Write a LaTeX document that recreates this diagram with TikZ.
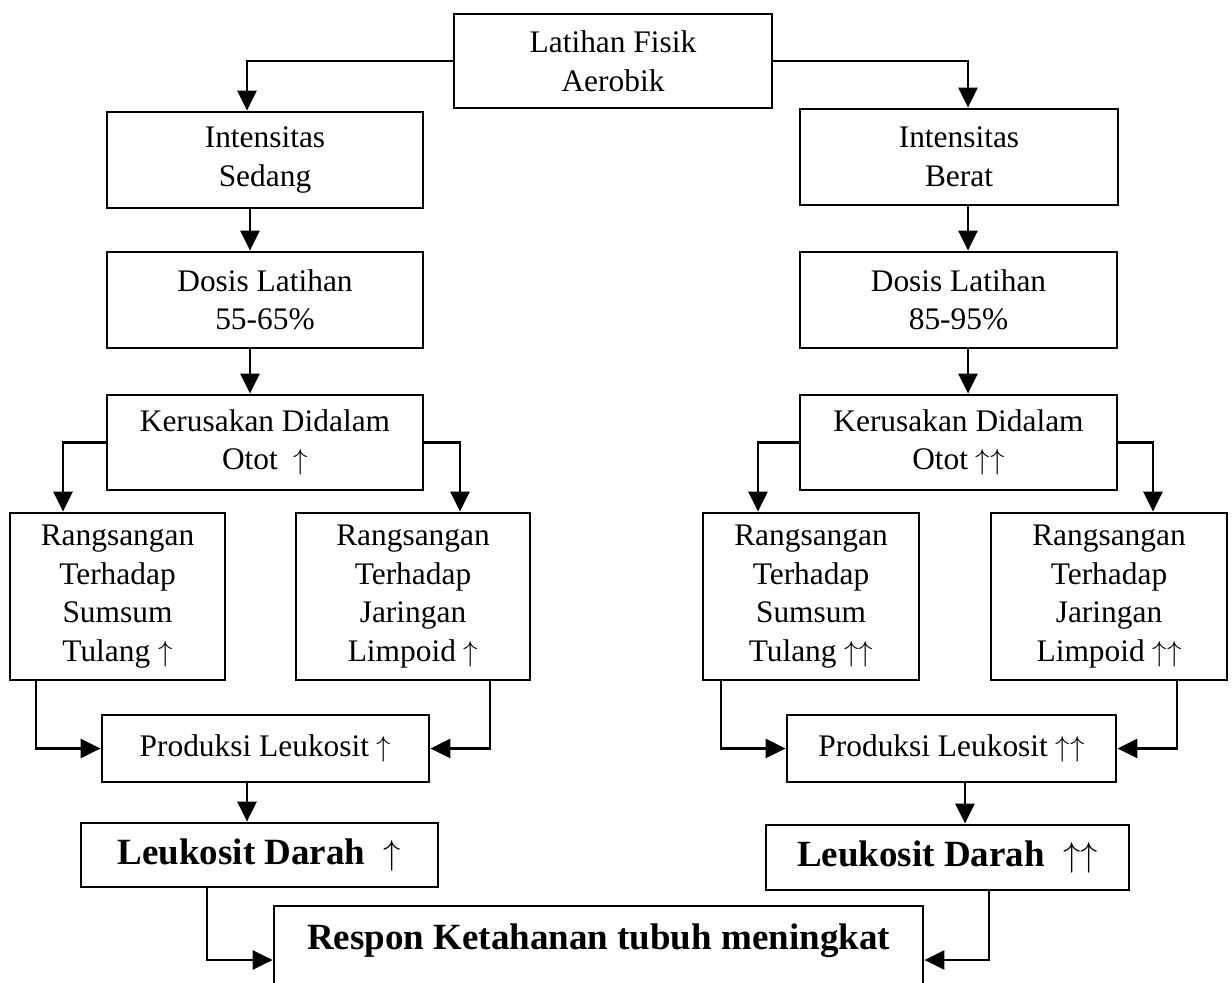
\documentclass[tikz,border=0pt]{standalone}
\usepackage{fontspec}
\setmainfont{Liberation Serif}
\usetikzlibrary{arrows.meta}
\newcommand{\upa}{$\uparrow$}
\newcommand{\upaa}{$\uparrow\uparrow$}
\begin{document}
\begin{tikzpicture}[x=0.5pt,y=-0.5pt,
  box/.style={draw, line width=1.4pt, align=center, inner sep=0pt,
    font=\fontsize{15.7}{19.3}\selectfont},
  bbox/.style={box, font=\fontsize{18.5}{22}\selectfont\bfseries},
  arr/.style={line width=1.3pt, -{Triangle[length=10pt,width=9.5pt]}}]
\useasboundingbox (0,0) rectangle (1232,982);

% column guide coordinates
\coordinate (xL) at (250,0);
\coordinate (xLa) at (247,0);
\coordinate (xR) at (968,0);
\coordinate (xRa) at (965,0);
\coordinate (xLL) at (63,0);
\coordinate (xLR) at (460,0);
\coordinate (xRL) at (758,0);
\coordinate (xRR) at (1153,0);
\coordinate (xA) at (36,0);
\coordinate (xB) at (490,0);
\coordinate (xC) at (721,0);
\coordinate (xD) at (1177,0);
\coordinate (xE) at (207,0);
\coordinate (xF) at (989,0);

% top
\node[box, minimum width=159pt, minimum height=47pt] (top) at (613,61) {Latihan Fisik\\Aerobik};

% left column
\node[box, minimum width=158pt, minimum height=48pt] (sedang) at (265,160) {Intensitas\\Sedang};
\node[box, minimum width=158pt, minimum height=48pt] (dosisL) at (265,300) {Dosis Latihan\\55-65\%};
\node[box, minimum width=158pt, minimum height=47.5pt] (kerL) at (265,442.5) {Kerusakan Didalam\\Otot\ \ \upa};
\node[box, minimum width=107.5pt, minimum height=83.5pt] (sumL) at (117.5,596.5) {Rangsangan\\Terhadap\\Sumsum\\Tulang \upa};
\node[box, minimum width=117pt, minimum height=83.5pt] (jarL) at (413,596.5) {Rangsangan\\Terhadap\\Jaringan\\Limpoid \upa};
\node[box, minimum width=163.5pt, minimum height=33.5pt] (proL) at (265.5,748.5) {Produksi Leukosit \upa};
\node[bbox, minimum width=178.5pt, minimum height=32pt] (darL) at (259.5,855) {Leukosit Darah\ \ \upa};

% right column
\node[box, minimum width=159pt, minimum height=48pt] (berat) at (959,157) {Intensitas\\Berat};
\node[box, minimum width=158.5pt, minimum height=48pt] (dosisR) at (958.5,300) {Dosis Latihan\\85-95\%};
\node[box, minimum width=158.5pt, minimum height=47.5pt] (kerR) at (958.5,442.5) {Kerusakan Didalam\\Otot \upaa};
\node[box, minimum width=108pt, minimum height=83.5pt] (sumR) at (811,596.5) {Rangsangan\\Terhadap\\Sumsum\\Tulang \upaa};
\node[box, minimum width=118pt, minimum height=83.5pt] (jarR) at (1109,596.5) {Rangsangan\\Terhadap\\Jaringan\\Limpoid \upaa};
\node[box, minimum width=164.5pt, minimum height=33.5pt] (proR) at (951.5,748.5) {Produksi Leukosit \upaa};
\node[bbox, minimum width=181.5pt, minimum height=32.5pt] (darR) at (947.5,857.5) {Leukosit Darah\ \ \upaa};

% bottom (cut off by page edge)
\node[box, minimum width=324.5pt, minimum height=54pt] (resp) at (598.5,960) {};
\node[font=\fontsize{18.5}{22}\selectfont\bfseries, inner sep=0pt] (resptext) at (598.5,941) {Respon Ketahanan tubuh meningkat};

% connectors
\draw[arr] (top.west) -| (sedang.north -| xLa);
\draw[arr] (top.east) -| (berat.north -| xR);
\draw[arr] (sedang.south -| xL) -- (dosisL.north -| xL);
\draw[arr] (dosisL.south -| xL) -- (kerL.north -| xL);
\draw[arr] (berat.south -| xR) -- (dosisR.north -| xR);
\draw[arr] (dosisR.south -| xR) -- (kerR.north -| xR);

\draw[arr] (kerL.west) -| (sumL.north -| xLL);
\draw[arr] (kerL.east) -| (jarL.north -| xLR);
\draw[arr] (kerR.west) -| (sumR.north -| xRL);
\draw[arr] (kerR.east) -| (jarR.north -| xRR);

\draw[arr] (sumL.south -| xA) |- (proL.west);
\draw[arr] (jarL.south -| xB) |- (proL.east);
\draw[arr] (sumR.south -| xC) |- (proR.west);
\draw[arr] (jarR.south -| xD) |- (proR.east);

\draw[arr] (proL.south -| xLa) -- (darL.north -| xLa);
\draw[arr] (proR.south -| xRa) -- (darR.north -| xRa);

\draw[arr] (darL.south -| xE) |- (resp.west);
\draw[arr] (darR.south -| xF) |- (resp.east);
\end{tikzpicture}
\end{document}
